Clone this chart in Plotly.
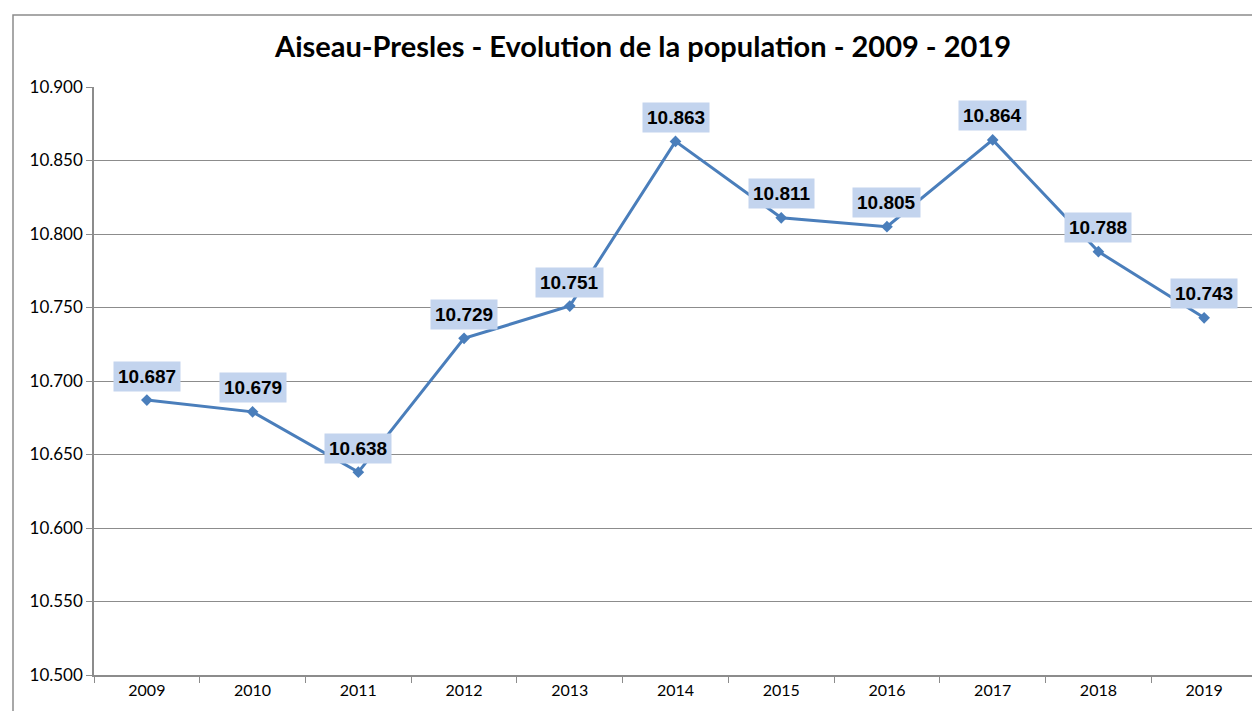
import plotly.graph_objects as go

years = ["2009", "2010", "2011", "2012", "2013", "2014", "2015", "2016", "2017", "2018", "2019"]
population = [10687, 10679, 10638, 10729, 10751, 10863, 10811, 10805, 10864, 10788, 10743]
y_ticks = [10500, 10550, 10600, 10650, 10700, 10750, 10800, 10850, 10900]

OFF = 8  # page body margin
W, H = 1260 - OFF, 711 - OFF
L, R, T, B = 94 - OFF, 3, 87 - OFF, 36
pw, ph = W - L - R, H - T - B

def fmt(v):
    return f"{v:,}".replace(",", ".")

fig = go.Figure()
fig.add_trace(go.Scatter(
    x=years, y=population, mode="lines+markers",
    line=dict(color="#4a7ebb", width=3),
    marker=dict(symbol="diamond", size=9, color="#4a7ebb"),
    hoverinfo="skip", showlegend=False,
))

for i, v in enumerate(population):
    fig.add_annotation(
        x=i, y=v, text=f"<b>{fmt(v)}</b>", showarrow=False,
        yshift=24, bgcolor="#c3d4ee", borderpad=4,
        font=dict(family="Liberation Sans", size=19, color="#000000"),
    )

fig.add_shape(
    type="rect", xref="paper", yref="paper",
    x0=(13 - OFF - L) / pw, x1=(W + 20 - L) / pw,
    y0=-(B + 20) / ph, y1=(H - (15 - OFF) - B) / ph,
    line=dict(color="#8c8c8c", width=1.5), fillcolor="rgba(0,0,0,0)", layer="below",
)

fig.update_layout(
    width=W, height=H,
    margin=dict(l=L, r=R, t=T, b=B),
    paper_bgcolor="white", plot_bgcolor="white",
    separators=",.",
    title=dict(
        text="<b>Aiseau-Presles - Evolution de la population - 2009 - 2019</b>",
        x=(643 - OFF) / W, xanchor="center", y=1 - (47 - OFF) / H, yanchor="middle",
        font=dict(family="Lato", size=29, color="#000000"),
    ),
    xaxis=dict(
        type="category", tickson="boundaries", ticks="outside", ticklen=6,
        tickcolor="#8c8c8c", showline=True, linecolor="#8c8c8c", linewidth=1.5,
        showgrid=False, tickfont=dict(family="Lato", size=16, color="#000000"),
        range=[-0.5, len(years) - 0.5],
    ),
    yaxis=dict(
        range=[10500, 10900], tickvals=y_ticks, ticktext=[fmt(v) for v in y_ticks],
        ticks="outside", ticklen=6, tickcolor="#8c8c8c",
        showline=True, linecolor="#8c8c8c", linewidth=1.5,
        showgrid=True, gridcolor="#8c8c8c", gridwidth=1, zeroline=False,
        tickfont=dict(family="Lato", size=17, color="#000000"),
    ),
)

fig.write_html("out.html")
